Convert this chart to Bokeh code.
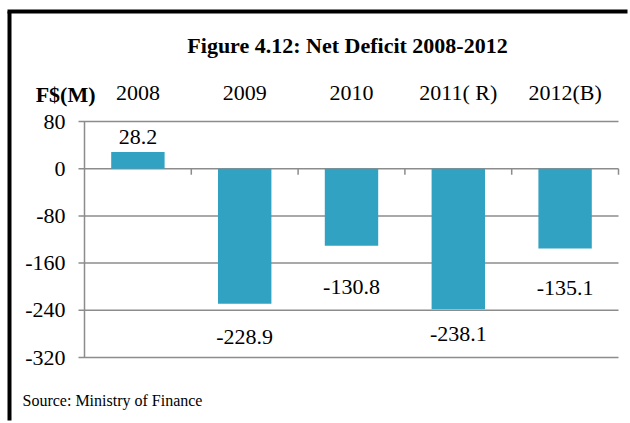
from bokeh.plotting import figure
from bokeh.models import Range1d, ColumnDataSource
from bokeh.core.properties import value
from bokeh.embed import file_html
from bokeh.resources import INLINE

# ---- data ----
categories = ["2008", "2009", "2010", "2011( R)", "2012(B)"]
net_deficit = [28.2, -228.9, -130.8, -238.1, -135.1]
y_ticks = [80, 0, -80, -160, -240, -320]
y_tick_labels = [str(t) for t in y_ticks]
title_text = "Figure 4.12: Net Deficit 2008-2012"
unit_text = "F$(M)"
source_text = "Source: Ministry of Finance"

# ---- styles / layout (pixels) ----
FONT = "Liberation Serif"
GRID = "#8c8c8c"
BAR = "#32a2c2"
W, H = 630, 423
PLOT_L, PLOT_R, PLOT_T, PLOT_B = 84, 618, 121, 357
TICK = 6
BORDER_X, BORDER_Y, BORDER_W = 9, 11, 4
label_offsets = [-15, 33, 41, 25, 40]  # px shift of value labels from bar end

n = len(categories)
ymax, ymin = max(y_ticks), min(y_ticks)
px_x = (PLOT_R - PLOT_L) / n
px_y = (PLOT_B - PLOT_T) / (ymax - ymin)
x_range = Range1d(-PLOT_L / px_x, n + (W - PLOT_R) / px_x)
y_range = Range1d(ymin - (H - PLOT_B) / px_y, ymax + PLOT_T / px_y)

slot_centers = [i + 0.5 for i in range(n)]
slot_edges = [i + 1 for i in range(n)]

p = figure(width=W, height=H, output_backend="svg", toolbar_location=None,
           x_range=x_range, y_range=y_range, title=None,
           x_axis_location=None, y_axis_location=None, min_border=0)
p.outline_line_color = None
p.background_fill_color = "white"
p.border_fill_color = "white"
p.xgrid.visible = False
p.ygrid.visible = False

# outer border: only the top and left edges fall inside the window
bx = x_range.start + BORDER_X / px_x
by = y_range.end - BORDER_Y / px_y
half_x = (BORDER_W / 2) / px_x
p.segment(x0=[bx - half_x], x1=[x_range.end - 3 / px_x], y0=[by], y1=[by],
          line_color="black", line_width=BORDER_W)
p.segment(x0=[bx], x1=[bx], y0=[by], y1=[y_range.start + 3 / px_y],
          line_color="black", line_width=BORDER_W)

# horizontal gridlines (extend left as tick marks)
p.segment(x0=[-TICK / px_x] * len(y_ticks), x1=[n] * len(y_ticks),
          y0=y_ticks, y1=y_ticks, line_color=GRID, line_width=1.5)
# vertical axis line
p.segment(x0=[0], x1=[0], y0=[ymin], y1=[ymax], line_color=GRID, line_width=1.5)
# category boundary ticks on the zero line
p.segment(x0=slot_edges, x1=slot_edges, y0=[0] * n, y1=[-TICK / px_y] * n,
          line_color=GRID, line_width=1.5)

# bars
src = ColumnDataSource(dict(x=slot_centers, v=net_deficit,
                            lab=[f"{v:.1f}" for v in net_deficit],
                            dy=label_offsets))
p.vbar(x="x", top="v", bottom=0, width=0.5, source=src,
       fill_color=BAR, line_color=None)

# value labels
p.text(x="x", y="v", text="lab", y_offset="dy", source=src,
       text_align="center", text_baseline="middle",
       text_font=value(FONT), text_font_size="22px", text_color="black")

# y tick labels
p.text(x=[0] * len(y_ticks), y=y_ticks, text=y_tick_labels, x_offset=-19,
       text_align="right", text_baseline="middle",
       text_font=value(FONT), text_font_size="22px", text_color="black")

# category labels on top
p.text(x=slot_centers, y=[ymax] * n, text=categories, y_offset=-29,
       text_align="center", text_baseline="middle",
       text_font=value(FONT), text_font_size="22px", text_color="black")

# title
p.text(x=[n / 2], y=[ymax], text=[title_text], x_offset=-4, y_offset=-76,
       text_align="center", text_baseline="middle",
       text_font=value(FONT), text_font_size="22px", text_font_style="bold",
       text_color="black")

# unit label
p.text(x=[0], y=[ymax], text=[unit_text], x_offset=11, y_offset=-27,
       text_align="right", text_baseline="middle",
       text_font=value(FONT), text_font_size="22px", text_font_style="bold",
       text_color="black")

# source note
p.text(x=[0], y=[ymin], text=[source_text], x_offset=-62, y_offset=43,
       text_align="left", text_baseline="middle",
       text_font=value(FONT), text_font_size="16px", text_color="black")

open("out.html", "w").write(file_html(p, INLINE))
